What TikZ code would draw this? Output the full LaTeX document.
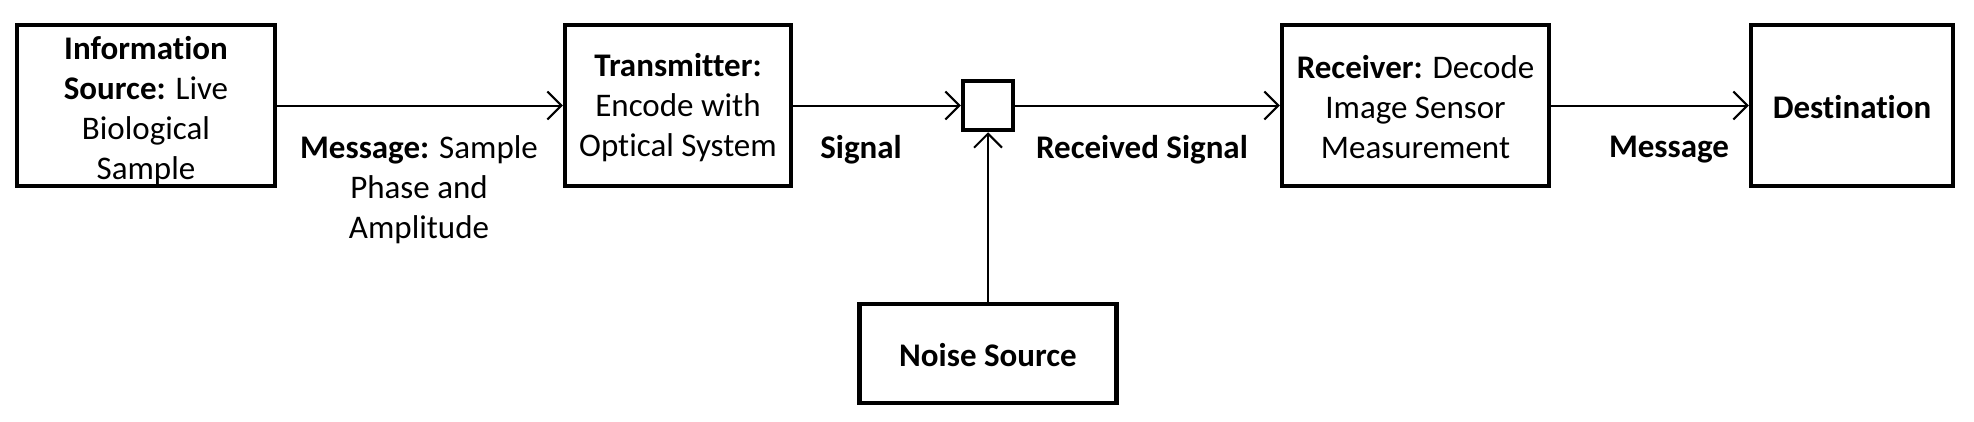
\documentclass[tikz,border=0pt]{standalone}
\usepackage{fontspec}
\setmainfont{Carlito}[Ligatures={NoCommon}]
\usetikzlibrary{arrows.meta}
\begin{document}
\begin{tikzpicture}[x=1pt,y=-1pt,
  blk/.style={draw,line width=4.5pt,inner sep=0pt},
  lbl/.style={inner sep=0pt,align=center,font=\fontsize{33}{40}\selectfont},
  conn/.style={line width=2pt,-{Straight Barb[length=14pt,width=28pt,line width=2pt]}}]
\useasboundingbox (0,0) rectangle (1974,421);
\node[blk,minimum width=258pt,minimum height=161pt] (src) at (146,105.5) {};
\node[blk,minimum width=226pt,minimum height=161pt] (tx) at (678,105.5) {};
\node[blk,minimum width=50pt,minimum height=49pt] (j) at (988,105.5) {};
\node[blk,minimum width=267pt,minimum height=161pt] (rx) at (1415.5,105.5) {};
\node[blk,minimum width=202pt,minimum height=161pt] (dst) at (1852,105.5) {};
\node[blk,minimum width=257pt,minimum height=99pt] (ns) at (988,353.5) {};
\node[lbl] (srct) at ([yshift=-5pt]src.center)
  {\textbf{Information}\\\textbf{Source:} Live\\Biological\\Sample};
\node[lbl] (txt) at ([yshift=-2pt]tx.center)
  {\textbf{Transmitter:}\\Encode with\\Optical System};
\node[lbl] (rxt) at ([yshift=-2pt]rx.center)
  {\textbf{Receiver:} Decode\\Image Sensor\\Measurement};
\node[lbl] (dstt) at ([yshift=-2pt]dst.center) {\textbf{Destination}};
\node[lbl] (nst) at ([yshift=-2pt]ns.center) {\textbf{Noise Source}};
\draw[conn] (src.east) -- (tx.west);
\draw[conn] (tx.east) -- (j.west);
\draw[conn] (j.east) -- (rx.west);
\draw[conn] (rx.east) -- (dst.west);
\draw[conn] (ns.north) -- (j.south);
\node[lbl] (m1) at (419,190) {\textbf{Message:} Sample\\Phase and\\Amplitude};
\node[lbl] (sg) at (861,150) {\textbf{Signal}};
\node[lbl] (rs) at (1142,150) {\textbf{Received Signal}};
\node[lbl] (m2) at (1669,150) {\textbf{Message}};
\end{tikzpicture}
\end{document}
